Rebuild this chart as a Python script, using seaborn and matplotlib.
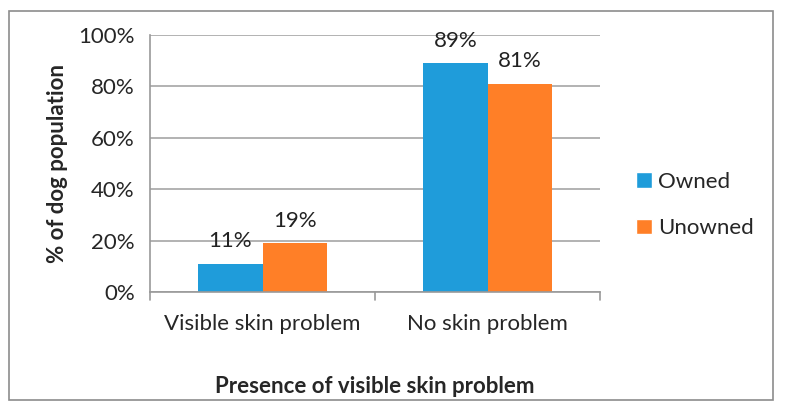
import matplotlib
matplotlib.use("Agg")
import matplotlib.pyplot as plt
import seaborn as sns
import pandas as pd
from matplotlib.patches import Rectangle, Patch

categories = ["Visible skin problem", "No skin problem"]
series = ["Owned", "Unowned"]
owned = [11, 89]
unowned = [19, 81]
yticks = [0, 20, 40, 60, 80, 100]

df = pd.DataFrame({
    "cat": categories * 2,
    "series": [series[0]] * 2 + [series[1]] * 2,
    "val": owned + unowned,
})

sns.set_style("white")
plt.rcParams["font.family"] = ["Lato", "DejaVu Sans"]

fig = plt.figure(figsize=(7.85, 4.08), dpi=100)
W, H = 785, 408
ax = fig.add_axes([150 / W, 1 - 292 / H, 450 / W, 257 / H])

colors = ["#1F9CDA", "#FF7F27"]
sns.barplot(data=df, x="cat", y="val", hue="series", palette=colors,
            width=0.57, ax=ax, saturation=1, legend=False, linewidth=0)

FS = 16
for c in ax.containers:
    ax.bar_label(c, labels=[f"{v:.0f}%" for v in c.datavalues], padding=9,
                 fontsize=FS, color="#222222")

ax.set_ylim(0, 100)
ax.set_xlim(-0.5, 1.5)
ax.set_yticks(yticks)
ax.set_yticklabels([f"{t}%" for t in yticks], fontsize=FS)
ax.tick_params(axis="y", length=7, color="#999999", width=1.2, pad=4)
ax.tick_params(axis="x", length=0, labelsize=FS, pad=16)
ax.set_xticks([0, 1])
ax.set_xticklabels(categories)
for xt in [-0.5, 0.5, 1.5]:
    ax.plot([xt, xt], [0, -3], color="#999999", lw=1.2, clip_on=False,
            transform=ax.transData)
ax.grid(axis="y", color="#A6A6A6", lw=1.2)
ax.set_axisbelow(True)
for s in ["top", "right"]:
    ax.spines[s].set_visible(False)
for s in ["left", "bottom"]:
    ax.spines[s].set_color("#999999")
    ax.spines[s].set_linewidth(1.2)

ax.set_ylabel("% of dog population", fontsize=FS, fontweight="bold", labelpad=7)
ax.set_xlabel("Presence of visible skin problem", fontsize=FS, fontweight="bold", labelpad=30)

handles = [Patch(facecolor=c, label=s) for c, s in zip(colors, series)]
fig.legend(handles=handles, loc="center left", bbox_to_anchor=(616 / W, 1 - 205 / H),
           frameon=False, fontsize=FS, handlelength=0.7, handleheight=0.7,
           handletextpad=0.3, labelspacing=1.2)

fig.patches.append(Rectangle((9 / W, 1 - 400 / H), 764 / W, 389 / H,
                             transform=fig.transFigure, fill=False,
                             edgecolor="#8C8C8C", lw=1.2))

fig.savefig("out.png", dpi=100, facecolor="white")
